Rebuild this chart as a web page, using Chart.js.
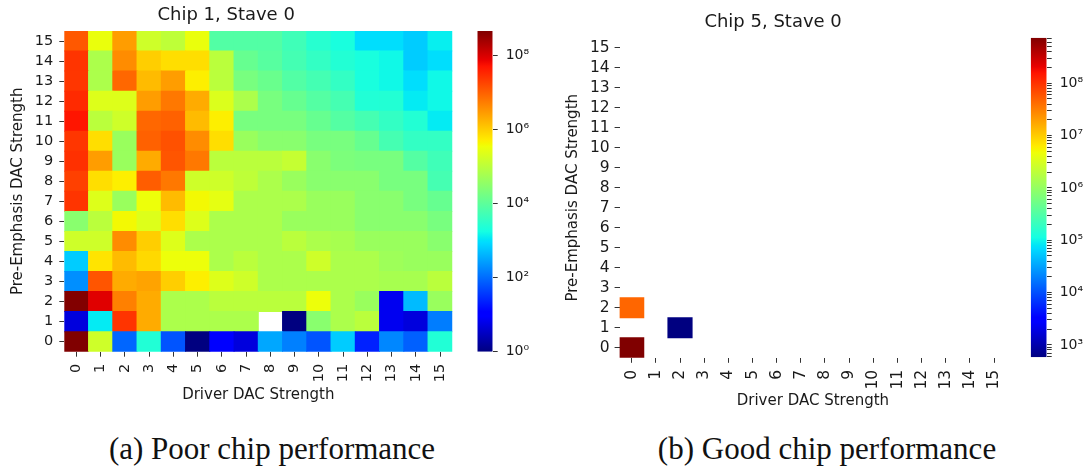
<!DOCTYPE html>
<html>
<head>
<meta charset="utf-8">
<title>Driver / Pre-Emphasis DAC strength scans</title>
<script src="https://cdn.jsdelivr.net/npm/chart.js@4.4.1/dist/chart.umd.min.js"></script>
<style>
  html, body { margin: 0; padding: 0; background: #fff; }
  #figure { position: relative; width: 1089px; height: 470px; overflow: hidden; background: #fff; }
  #figure canvas { position: absolute; top: 0; }
  .caption {
    position: absolute; top: 433px;
    font-family: 'Liberation Serif', 'DejaVu Serif', serif;
    font-size: 31px; line-height: 31px; color: #111;
    white-space: nowrap; transform: translateX(-50%);
  }
</style>
</head>
<body>
<div id="figure">
  <canvas id="heatA" width="517" height="420" style="left:0px"></canvas>
  <canvas id="barA" width="100" height="420" style="left:470px"></canvas>
  <canvas id="heatB" width="546" height="420" style="left:540px"></canvas>
  <canvas id="barB" width="69" height="420" style="left:1020px"></canvas>
  <div class="caption" style="left:272px">(a) Poor chip performance</div>
  <div class="caption" style="left:827px">(b) Good chip performance</div>
</div>
<script>
// ---------- axis categories ----------
const driverLabels = ['0','1','2','3','4','5','6','7','8','9','10','11','12','13','14','15'];
const preEmphasisTicks = [0,1,2,3,4,5,6,7,8,9,10,11,12,13,14,15];

// ---------- Chip 1, Stave 0: counts per driver strength (0..15), one array per pre-emphasis strength ----------
const chip1_pe0  = [4.7e8, 1.6e5, 89, 2.4e3, 63, 1, 10, 5, 320, 150, 63, 660, 23, 170, 80, 2.4e3];
const chip1_pe1  = [5, 1.2e3, 2.6e7, 2.1e6, 7.1e4, 7.1e4, 7.1e4, 7.1e4, null, 1, 3.0e4, 7.1e4, 1.0e5, 7, 5, 140];
const chip1_pe2  = [4.5e8, 8.9e7, 5.2e6, 2.1e6, 7.1e4, 7.1e4, 1.0e5, 1.0e5, 1.0e5, 1.0e5, 3.4e5, 7.1e4, 4.5e4, 7, 470, 4.5e4];
const chip1_pe3  = [200, 1.3e7, 2.1e6, 2.5e6, 1.0e6, 5.0e5, 2.3e5, 1.6e5, 7.1e4, 7.1e4, 7.1e4, 7.1e4, 7.1e4, 6.3e4, 6.3e4, 1.0e5];
const chip1_pe4  = [660, 6.3e5, 1.5e6, 7.9e5, 3.4e5, 3.4e5, 7.1e4, 1.0e5, 7.1e4, 7.1e4, 1.6e5, 7.1e4, 7.1e4, 5.0e4, 4.5e4, 4.5e4];
const chip1_pe5  = [1.6e5, 1.6e5, 4.0e6, 1.0e6, 2.3e5, 7.1e4, 7.1e4, 7.1e4, 7.1e4, 1.0e5, 7.1e4, 6.3e4, 4.5e4, 4.5e4, 4.5e4, 3.0e4];
const chip1_pe6  = [3.0e4, 1.0e5, 4.0e5, 2.3e5, 7.2e5, 2.3e5, 7.1e4, 7.1e4, 7.1e4, 4.5e4, 4.5e4, 4.5e4, 3.0e4, 3.0e4, 3.0e4, 2.0e4];
const chip1_pe7  = [2.6e7, 2.3e5, 4.5e4, 3.4e5, 1.5e6, 4.0e5, 2.8e5, 7.1e4, 7.1e4, 7.1e4, 4.5e4, 4.5e4, 3.0e4, 3.0e4, 2.0e4, 1.3e4];
const chip1_pe8  = [2.0e7, 7.2e5, 5.0e5, 1.1e7, 6.2e6, 1.6e5, 1.6e5, 1.1e5, 7.1e4, 4.5e4, 3.0e4, 3.0e4, 3.0e4, 2.0e4, 2.0e4, 5.8e3];
const chip1_pe9  = [2.8e7, 2.8e6, 4.5e4, 2.1e6, 1.3e7, 6.2e6, 1.0e5, 1.0e5, 1.0e5, 1.3e5, 3.0e4, 2.2e4, 2.0e4, 2.0e4, 8.3e3, 5.0e3];
const chip1_pe10 = [2.5e7, 7.2e5, 4.5e4, 1.0e7, 1.4e7, 4.0e6, 7.2e5, 4.5e4, 3.0e4, 3.0e4, 2.0e4, 2.0e4, 1.3e4, 5.8e3, 3.7e3, 3.7e3];
const chip1_pe11 = [5.0e7, 1.0e5, 1.6e5, 8.9e6, 1.0e7, 1.5e6, 5.0e5, 2.0e4, 2.0e4, 2.0e4, 1.3e4, 8.3e3, 5.8e3, 3.7e3, 2.5e3, 1.2e3];
const chip1_pe12 = [3.2e7, 2.3e5, 2.3e5, 2.8e6, 6.2e6, 2.1e6, 2.2e5, 7.1e4, 2.0e4, 1.3e4, 8.3e3, 5.8e3, 2.4e3, 2.5e3, 1.2e3, 1.6e3];
const chip1_pe13 = [2.5e7, 7.1e4, 8.9e6, 1.5e6, 2.8e6, 5.0e5, 1.0e5, 2.0e4, 1.4e4, 7.9e3, 5.6e3, 3.7e3, 2.0e3, 1.6e3, 930, 1.6e3];
const chip1_pe14 = [2.6e7, 7.1e4, 4.0e6, 1.0e6, 7.2e5, 7.2e5, 1.0e5, 1.3e4, 8.9e3, 5.6e3, 3.7e3, 2.5e3, 2.0e3, 1.6e3, 660, 930];
const chip1_pe15 = [1.2e7, 3.2e5, 2.8e6, 1.6e5, 1.1e5, 3.2e5, 7.9e3, 7.9e3, 7.9e3, 5.0e3, 2.8e3, 2.0e3, 930, 930, 660, 1.3e3];

// ---------- Chip 5, Stave 0: the only populated settings ----------
const chip5Driver      = [0, 0, 2];
const chip5PreEmphasis = [0, 2, 1];
const chip5Counts      = [7.4e8, 4.6e7, 580];

// ---------- colour-bar tick values ----------
const cbarTicksA  = [1, 1e2, 1e4, 1e6, 1e8];
const cbarTicksB  = [6e2, 7e2, 8e2, 9e2,
                     1e3, 2e3, 3e3, 4e3, 5e3, 6e3, 7e3, 8e3, 9e3,
                     1e4, 2e4, 3e4, 4e4, 5e4, 6e4, 7e4, 8e4, 9e4,
                     1e5, 2e5, 3e5, 4e5, 5e5, 6e5, 7e5, 8e5, 9e5,
                     1e6, 2e6, 3e6, 4e6, 5e6, 6e6, 7e6, 8e6, 9e6,
                     1e7, 2e7, 3e7, 4e7, 5e7, 6e7, 7e7, 8e7, 9e7,
                     1e8, 2e8, 3e8, 4e8, 5e8, 6e8, 7e8];

// ---------- jet colour map (piecewise linear, as in matplotlib) ----------
const JET = {
  r: [[0, 0], [0.35, 0], [0.66, 1], [0.89, 1], [1, 0.5]],
  g: [[0, 0], [0.125, 0], [0.375, 1], [0.64, 1], [0.91, 0], [1, 0]],
  b: [[0, 0.5], [0.11, 1], [0.34, 1], [0.65, 0], [1, 0]]
};
const JET_STOPS = [0, 0.11, 0.125, 0.34, 0.35, 0.375, 0.64, 0.65, 0.66, 0.89, 0.91, 1];
function channel(pts, t) {
  for (let i = 1; i < pts.length; i++) {
    if (t <= pts[i][0]) {
      const [x0, y0] = pts[i - 1], [x1, y1] = pts[i];
      return y0 + (y1 - y0) * (t - x0) / (x1 - x0);
    }
  }
  return pts[pts.length - 1][1];
}
function jet(t) {
  t = Math.min(1, Math.max(0, t));
  const c = ['r', 'g', 'b'].map(k => Math.round(255 * channel(JET[k], t)));
  return `rgb(${c[0]},${c[1]},${c[2]})`;
}
function logRange(values) {
  const v = values.filter(x => x !== null);
  return { min: Math.min(...v), max: Math.max(...v) };
}
function colourFor(v, range) {
  const lo = Math.log10(range.min), hi = Math.log10(range.max);
  return jet((Math.log10(v) - lo) / (hi - lo));
}
function jetGradient(chart) {
  const a = chart.chartArea;
  if (!a) return 'rgba(0,0,0,0)';
  const g = chart.ctx.createLinearGradient(0, a.bottom, 0, a.top);
  JET_STOPS.forEach(s => g.addColorStop(s, jet(s)));
  return g;
}

const SUP = { '0': '⁰', '1': '¹', '2': '²', '3': '³', '4': '⁴', '5': '⁵', '6': '⁶', '7': '⁷', '8': '⁸', '9': '⁹', '-': '⁻' };
function powLabel(v) {
  const e = Math.log10(v);
  if (Math.abs(e - Math.round(e)) > 1e-9) return '';
  return '10' + String(Math.round(e)).split('').map(c => SUP[c]).join('');
}

// ---------- shared styling ----------
const FONT = "'DejaVu Sans', sans-serif";
const TEXT = '#1a1a1a';
const TICK = '#333333';
const cellStyle = {
  grouped: false, barPercentage: 1, categoryPercentage: 1,
  borderWidth: 0, borderSkipped: false, inflateAmount: 0.5
};

function heatmap(id, cfg) {
  return new Chart(document.getElementById(id), {
    type: 'bar',
    data: { labels: driverLabels, datasets: cfg.datasets },
    options: {
      responsive: false,
      animation: false,
      layout: { padding: { left: 0, right: cfg.padRight, top: 0, bottom: 0 } },
      plugins: {
        legend: { display: false },
        tooltip: { enabled: false },
        title: {
          display: true, text: cfg.title, color: TEXT,
          font: { family: FONT, size: 18, weight: 'normal' },
          padding: cfg.titlePad
        }
      },
      scales: {
        x: {
          type: 'category', offset: true,
          grid: { offset: false, drawOnChartArea: false, drawTicks: true, tickLength: 5, tickColor: TICK, tickWidth: 1 },
          border: { display: false },
          ticks: { autoSkip: false, minRotation: 90, maxRotation: 90, padding: cfg.xPad, color: TEXT,
                   font: { family: FONT, size: cfg.tickSize } },
          title: { display: true, text: 'Driver DAC Strength', color: TEXT,
                   font: { family: FONT, size: 15 }, padding: { top: 0, bottom: cfg.xTitlePad } },
          afterFit: s => { s.height = cfg.xHeight; }
        },
        y: {
          type: 'linear', min: -0.5, max: 15.5, bounds: 'data',
          afterBuildTicks: s => { s.ticks = preEmphasisTicks.map(v => ({ value: v })); },
          grid: { drawOnChartArea: false, drawTicks: true, tickLength: 5, tickColor: TICK, tickWidth: 1 },
          border: { display: false },
          ticks: { autoSkip: false, padding: cfg.yPad, color: TEXT,
                   font: { family: FONT, size: cfg.tickSize }, callback: v => String(v) },
          title: { display: true, text: 'Pre-Emphasis DAC Strength', color: TEXT,
                   font: { family: FONT, size: 15 }, padding: { top: cfg.yTitlePad, bottom: 0 } },
          afterFit: s => { s.width = cfg.yWidth; }
        }
      }
    }
  });
}

function colourbar(id, cfg) {
  return new Chart(document.getElementById(id), {
    type: 'bar',
    data: {
      labels: [''],
      datasets: [{
        data: [[cfg.range.min, cfg.range.max]],
        backgroundColor: ctx => jetGradient(ctx.chart),
        barPercentage: 1, categoryPercentage: 1, borderWidth: 0, inflateAmount: 0
      }]
    },
    options: {
      responsive: false,
      animation: false,
      layout: { padding: cfg.padding },
      plugins: { legend: { display: false }, tooltip: { enabled: false }, title: { display: false } },
      scales: {
        x: { display: false, offset: true },
        y: {
          type: 'logarithmic', position: 'right', bounds: 'data',
          min: cfg.range.min, max: cfg.range.max,
          afterBuildTicks: s => { s.ticks = cfg.ticks.map(v => ({ value: v })); },
          grid: { drawOnChartArea: false, drawTicks: true, tickLength: 5, tickColor: TICK, tickWidth: 1 },
          border: { display: false },
          ticks: { autoSkip: false, padding: 8, color: TEXT,
                   font: { family: FONT, size: 14 }, callback: v => powLabel(v) },
          afterFit: s => { s.width = cfg.width; }
        }
      }
    }
  });
}

// ---------- Chip 1 ----------
const chip1Rows = [chip1_pe0, chip1_pe1, chip1_pe2, chip1_pe3, chip1_pe4, chip1_pe5, chip1_pe6, chip1_pe7,
                   chip1_pe8, chip1_pe9, chip1_pe10, chip1_pe11, chip1_pe12, chip1_pe13, chip1_pe14, chip1_pe15];
const chip1Range = logRange(chip1Rows.flat());
const chip1Datasets = chip1Rows.map((row, pe) => Object.assign({
  data: row.map(v => v === null ? null : [pe - 0.5, pe + 0.5]),
  backgroundColor: row.map(v => v === null ? 'rgba(0,0,0,0)' : colourFor(v, chip1Range))
}, cellStyle));

heatmap('heatA', {
  title: 'Chip 1, Stave 0', datasets: chip1Datasets,
  padRight: 64.7, titlePad: { top: 4.7, bottom: 4.7 },
  xHeight: 68.3, yWidth: 64.3, xPad: 7, yPad: 6, xTitlePad: 16, yTitlePad: 9.3, tickSize: 14.5
});
colourbar('barA', {
  range: chip1Range, ticks: cbarTicksA,
  padding: { left: 7.3, right: 0, top: 31, bottom: 68.3 }, width: 77.3
});

// ---------- Chip 5 ----------
const chip5Range = logRange(chip5Counts);
const chip5Datasets = chip5Counts.map((v, i) => Object.assign({
  data: driverLabels.map((_, d) => d === chip5Driver[i]
    ? [chip5PreEmphasis[i] - 0.5, chip5PreEmphasis[i] + 0.5] : null),
  backgroundColor: colourFor(v, chip5Range)
}, cellStyle));

heatmap('heatB', {
  title: 'Chip 5, Stave 0', datasets: chip5Datasets,
  padRight: 79.8, titlePad: { top: 11.7, bottom: 4.4 },
  xHeight: 62.2, yWidth: 79.6, xPad: 7, yPad: 5, xTitlePad: 10, yTitlePad: 24.3, tickSize: 15.5
});
colourbar('barB', {
  range: chip5Range, ticks: cbarTicksB,
  padding: { left: 10.7, right: 0, top: 37.7, bottom: 62.7 }, width: 42.3
});
</script>
</body>
</html>
